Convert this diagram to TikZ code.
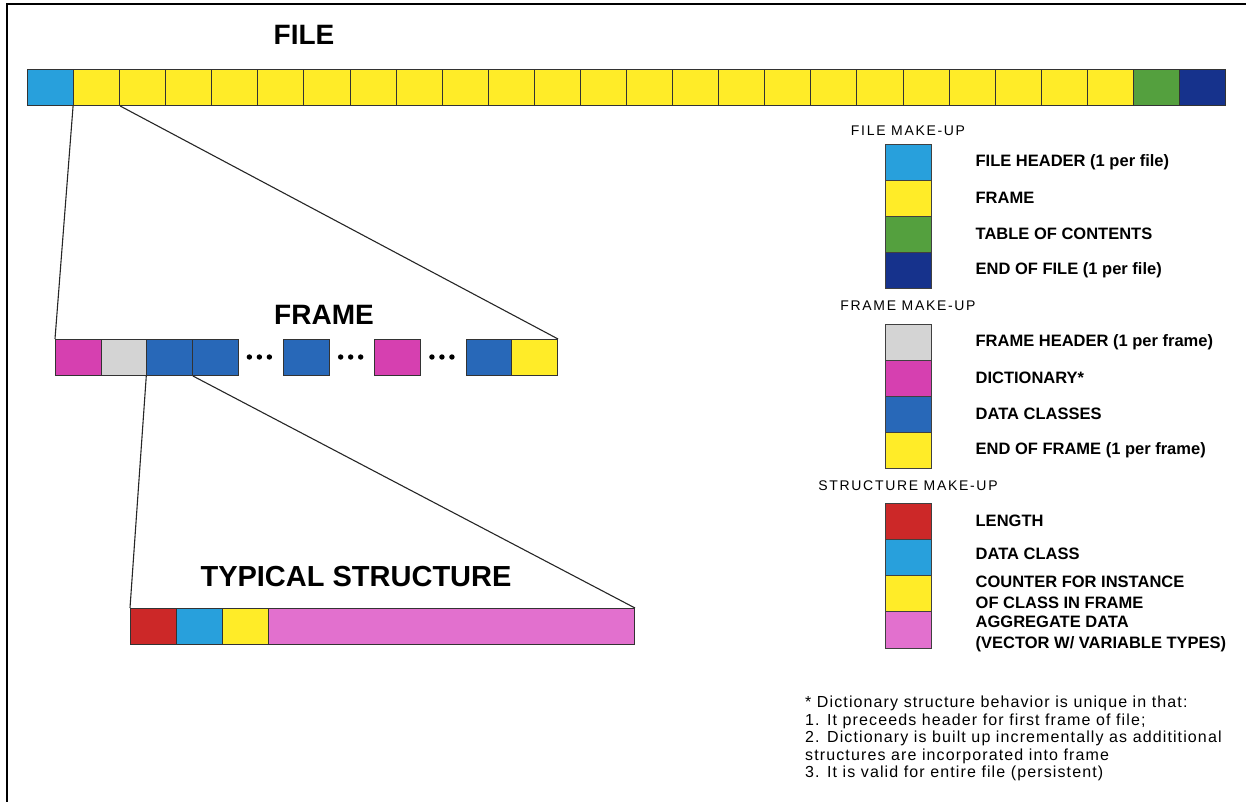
\documentclass[tikz,border=0pt]{standalone}
\usepackage{fontspec}
\setmainfont{Liberation Sans}
\usepackage{tikz}
\usetikzlibrary{positioning}

\definecolor{hdrblue}{RGB}{40,160,220}
\definecolor{framey}{RGB}{255,236,40}
\definecolor{tocgreen}{RGB}{84,160,62}
\definecolor{eofnavy}{RGB}{22,50,140}
\definecolor{dictmag}{RGB}{214,64,176}
\definecolor{fhgray}{RGB}{212,212,212}
\definecolor{clsblue}{RGB}{40,104,184}
\definecolor{lenred}{RGB}{204,40,40}
\definecolor{aggpink}{RGB}{226,112,206}

\newcommand{\lgkeyfont}{\bfseries\fontsize{16.5}{21}\selectfont}
\newcommand{\lgheadfont}{\fontsize{14}{16}\selectfont\addfontfeatures{LetterSpace=12}}
\newcommand{\ttlfont}{\bfseries\fontsize{28}{30}\selectfont}
\newcommand{\fnotefont}{\fontsize{16}{17.5}\selectfont\addfontfeatures{LetterSpace=7}}

\begin{document}
\begin{tikzpicture}[x=1pt,y=-1pt,
  cell/.style={draw=black!80,line width=1pt,minimum height=36pt,inner sep=0pt,anchor=north west},
  key/.style={draw=black!75,line width=0.9pt,minimum width=46pt,minimum height=36pt,inner sep=0pt},
  keylab/.style={anchor=west,font=\lgkeyfont,inner sep=0pt,align=left},
  lghead/.style={font=\lgheadfont,inner sep=0pt},
  ttl/.style={font=\ttlfont,inner sep=0pt},
  link/.style={line width=1.1pt,black!85}]
\useasboundingbox (0,0) rectangle (1246,802);
\draw[line width=2pt] (7,802) -- (7,4) -- (1246,4);

% file
\node[ttl] (filettl) at (304,35) {FILE};
\foreach \i in {0,...,25} {
  \ifnum\i=0 \def\c{hdrblue}\else\ifnum\i=24 \def\c{tocgreen}\else\ifnum\i=25 \def\c{eofnavy}\else\def\c{framey}\fi\fi\fi
  \node[cell,minimum width=46.08pt,fill=\c] (f\i) at (27+\i*46.08,69) {};
}

% frame
\node[ttl] (framettl) at (324,315) {FRAME};
\foreach \k/\c in {0/dictmag,1/fhgray,2/clsblue,3/clsblue,5/clsblue,7/dictmag,9/clsblue,10/framey}
  \node[cell,minimum width=45.64pt,fill=\c] (r\k) at (55+\k*45.64,339) {};
\foreach \k in {4,6,8}
  \foreach \d in {-11,-1,9}
    \fill (55+\k*45.64+22.82+\d,357) circle (2.7pt);

% typical structure
\node[ttl,font=\bfseries\fontsize{29}{31}\selectfont] (structttl) at (356,577) {TYPICAL STRUCTURE};
\node[cell,minimum width=46pt,fill=lenred] (s1) at (130,608) {};
\node[cell,minimum width=46pt,fill=hdrblue] (s2) at (176,608) {};
\node[cell,minimum width=46pt,fill=framey] (s3) at (222,608) {};
\node[cell,minimum width=366pt,fill=aggpink] (s4) at (268,608) {};

\draw[link] (f1.south west) -- (r0.north west);
\draw[link] (f1.south east) -- (r10.north east);
\draw[link] (r2.south west) -- (s1.north west);
\draw[link] (r2.south east) -- (s4.north east);

% legend
\foreach \c/\t [count=\i] in {hdrblue/FILE HEADER (1 per file),framey/FRAME,tocgreen/TABLE OF CONTENTS,eofnavy/END OF FILE (1 per file)} {
  \node[key,fill=\c] (fk\i) at (908,126+36*\i) {};
  \node[keylab,right=44pt of fk\i] (fkl\i) {\t};
}
\node[lghead,above=8pt of fk1] (fhead) {FILE MAKE-UP};

\foreach \c/\t [count=\i] in {fhgray/FRAME HEADER (1 per frame),dictmag/DICTIONARY*,clsblue/DATA CLASSES,framey/END OF FRAME (1 per frame)} {
  \node[key,fill=\c] (rk\i) at (908,306+36*\i) {};
  \node[keylab,right=44pt of rk\i] (rkl\i) {\t};
}
\node[lghead,above=13pt of rk1] (rhead) {FRAME MAKE-UP};

\foreach \c/\t/\s [count=\i] in {lenred/LENGTH/0,hdrblue/DATA CLASS/4,framey/{COUNTER FOR INSTANCE\\OF CLASS IN FRAME}/1,aggpink/{AGGREGATE DATA\\(VECTOR W/ VARIABLE TYPES)}/-4.5} {
  \node[key,minimum height=36.25pt,fill=\c] (sk\i) at (908,484.9+36.25*\i) {};
  \node[keylab,right=44pt of sk\i,yshift=\s pt] (skl\i) {\t};
}
\node[lghead,above=12pt of sk1] (shead) {STRUCTURE MAKE-UP};

% footnote
\node[anchor=north west,align=left,font=\fnotefont,inner sep=0pt] (note) at (805,696)
  {* Dictionary structure behavior is unique in that:\\
   1. It preceeds header for first frame of file;\\
   2. Dictionary is built up incrementally as addititional\\
   structures are incorporated into frame\\
   3. It is valid for entire file (persistent)};
\end{tikzpicture}
\end{document}
